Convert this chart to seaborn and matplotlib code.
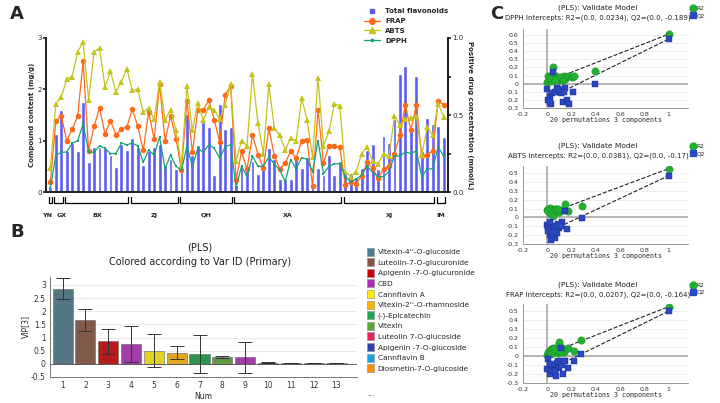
import matplotlib
matplotlib.use("Agg")
import matplotlib.pyplot as plt
import seaborn as sns
import numpy as np
import pandas as pd
from matplotlib.patches import Patch
from matplotlib.lines import Line2D

sns.set_theme(style="white")
plt.rcParams["font.family"] = "DejaVu Sans"

# ---------------- Panel A data ----------------
total_flavonoids = [0.1,1.13,1.6,0.8,0.95,0.8,1.75,0.58,0.87,0.88,
    0.85,0.72,0.48,0.93,0.82,1.06,0.88,0.52,0.8,0.88,
    0.93,0.52,0.65,0.45,0.38,1.52,0.72,0.92,1.37,1.27,
    0.33,1.72,1.23,1.26,0.14,0.5,0.48,0.6,0.36,0.45,
    0.86,0.65,0.26,0.26,0.26,0.7,0.46,0.69,0.1,0.46,
    0.33,0.73,0.34,0.61,0.38,0.37,0.3,0.47,0.82,0.93,
    0.45,1.09,0.96,1.42,2.3,2.45,1.27,2.26,0.79,1.44,
    1.33,1.29,1.07]
# antioxidant values in mmol/L (right axis, 0-1)
frap = [0.067,0.46,0.493,0.333,0.407,0.493,0.85,0.267,0.427,0.547,
    0.377,0.463,0.373,0.407,0.423,0.537,0.427,0.27,0.52,0.343,
    0.7,0.333,0.493,0.347,0.14,0.593,0.257,0.533,0.533,0.597,
    0.47,0.323,0.633,0.687,0.08,0.263,0.147,0.373,0.243,0.157,
    0.413,0.237,0.15,0.187,0.267,0.22,0.333,0.34,0.04,0.533,
    0.187,0.3,0.3,0.29,0.047,0.067,0.053,0.107,0.193,0.153,
    0.09,0.15,0.167,0.25,0.367,0.567,0.4,0.567,0.233,0.243,
    0.267,0.59,0.567]
abts = [0.157,0.573,0.617,0.733,0.75,0.91,0.973,0.6,0.91,0.933,
    0.683,0.783,0.65,0.717,0.8,0.66,0.667,0.517,0.543,0.473,
    0.717,0.467,0.533,0.4,0.167,0.69,0.4,0.577,0.467,0.55,
    0.533,0.473,0.567,0.7,0.2,0.333,0.3,0.767,0.45,0.25,
    0.7,0.417,0.367,0.273,0.35,0.333,0.61,0.467,0.227,0.743,
    0.3,0.393,0.573,0.56,0.133,0.1,0.133,0.25,0.293,0.2,
    0.183,0.25,0.233,0.493,0.433,0.473,0.483,0.493,0.24,0.423,
    0.367,0.573,0.49]
dpph = [0.023,0.24,0.257,0.26,0.317,0.333,0.443,0.26,0.257,0.3,
    0.283,0.25,0.25,0.317,0.307,0.317,0.3,0.193,0.273,0.24,
    0.357,0.15,0.24,0.167,0.14,0.3,0.167,0.283,0.257,0.307,
    0.283,0.22,0.293,0.307,0.033,0.167,0.1,0.233,0.167,0.167,
    0.227,0.183,0.143,0.067,0.21,0.15,0.223,0.213,0.133,0.333,
    0.117,0.167,0.183,0.183,0.1,0.067,0.083,0.11,0.167,0.127,
    0.1,0.1,0.133,0.233,0.233,0.26,0.25,0.267,0.1,0.15,
    0.15,0.293,0.233]
regions = ["YN","GX","BX","ZJ","QH","XA","XJ","IM"]
region_start = [0,1,3,15,24,34,54,71]
region_end = [0,2,14,23,33,53,70,72]

# ---------------- Panel B data ----------------
vip_num = list(range(1,14))
vip_values = [2.85,1.68,0.85,0.75,0.5,0.43,0.37,0.25,0.25,0.05,0.03,0.03,0.03]
vip_err = [0.4,0.42,0.48,0.67,0.63,0.26,0.72,0.04,0.58,0.02,0.01,0.01,0.01]
vip_colors = ["#4d7a8c","#8a5643","#d00000","#b02cb8","#ffee00","#ffb300",
              "#1aa84a","#5aa832","#b02cb8","#e8245c","#2a44b0","#19a0e8","#ff8c00"]
legend_names = ["Vitexin-4''-O-glucoside","Luteolin-7-O-glucuronide","Apigenin -7-O-glucuronide",
    "CBD","Cannflavin A","Vitexin-2''-O-rhamnoside","(-)-Epicatechin","Vitexin",
    "Luteolin 7-O-glucoside","Apigenin -7-O-glucoside","Cannflavin B","Diosmetin-7-O-glucoside"]
legend_colors = ["#4d7a8c","#8a5643","#d00000","#b02cb8","#ffee00","#ffb300",
    "#1aa84a","#5aa832","#e8245c","#2a44b0","#19a0e8","#ff8c00"]

# ---------------- Panel C data ----------------
perm_titles = ["DPPH Intercepts: R2=(0.0, 0.0234), Q2=(0.0, -0.189)",
               "ABTS Intercepts: R2=(0.0, 0.0381), Q2=(0.0, -0.17)",
               "FRAP Intercepts: R2=(0.0, 0.0207), Q2=(0.0, -0.164)"]
r2_int = [0.0234,0.0381,0.0207]
q2_int = [-0.189,-0.17,-0.164]
r2_x = [[0,0.01,0.02,0.03,0.05,0.07,0.1,0.12,0.14,0.15,0.17,0.2,0.22,0.39,0.03,0.08,0.11,0.13,0.02,0.06,1],
        [0,0.01,0.02,0.03,0.04,0.05,0.06,0.08,0.1,0.12,0.15,0.17,0.29,0.02,0.04,0.07,0.09,0.01,0.03,0.05,1],
        [0,0.01,0.02,0.03,0.05,0.07,0.1,0.12,0.14,0.17,0.22,0.28,0.04,0.06,0.08,0.09,0.02,0.11,0.03,0.05,1]]
r2_y = [[0.02,0.1,0.05,0.08,0.21,0.1,0.05,0.07,0.1,0.06,0.1,0.08,0.09,0.15,0.03,0.06,0.08,0.04,0.07,0.04,0.61],
        [0.08,0.1,0.11,0.06,0.09,0.03,0.1,0.08,0.06,0.08,0.15,0.07,0.13,0.05,0.07,0.09,0.1,0.07,0.04,0.02,0.55],
        [0.01,0.05,0.03,0.08,0.09,0.06,0.16,0.09,0.05,0.09,0.06,0.18,0.04,0.07,0.1,0.03,0.05,0.04,0.02,0.08,0.55]]
q2_x = [[0,0.01,0.02,0.03,0.04,0.05,0.08,0.1,0.12,0.13,0.15,0.16,0.18,0.21,0.39,0.06,0.11,0.02,0.14,0.09,1],
        [0,0.01,0.02,0.03,0.04,0.05,0.06,0.08,0.1,0.12,0.15,0.16,0.29,0.02,0.07,0.03,0.09,0.01,0.05,0.11,1],
        [0,0.01,0.02,0.03,0.05,0.07,0.08,0.1,0.11,0.13,0.15,0.17,0.22,0.28,0.04,0.06,0.09,0.12,0.02,0.14,1]]
q2_y = [[-0.07,-0.2,-0.15,-0.25,-0.12,0.14,-0.05,-0.1,-0.08,-0.22,-0.05,-0.2,-0.25,-0.1,0.0,-0.1,-0.12,-0.22,-0.1,-0.06,0.55],
        [-0.08,-0.12,-0.2,-0.25,-0.15,-0.1,-0.23,-0.18,-0.12,-0.05,0.07,-0.13,-0.01,-0.05,-0.1,-0.2,-0.07,-0.15,-0.17,-0.1,0.47],
        [-0.14,-0.03,-0.2,-0.15,-0.12,-0.22,-0.08,-0.13,0.09,-0.2,-0.06,-0.13,-0.05,0.02,-0.1,-0.17,-0.06,-0.1,-0.09,-0.05,0.5]]

W, H = 720, 403
fig = plt.figure(figsize=(W/100, H/100), dpi=100)
def rect(x0, y0, x1, y1):
    return [x0/W, 1-y1/H, (x1-x0)/W, (y1-y0)/H]

# ================= Panel A =================
axA = fig.add_axes(rect(46, 38, 448, 192))
n = len(total_flavonoids)
idx = np.arange(n)
axA.bar(idx, total_flavonoids, width=0.7, color="#5c5cf2", label="Total flavonoids")
axA.set_xlim(-0.8, n-0.2)
axA.set_ylim(0, 3)
axA.set_yticks([0,1,2,3])
axA.tick_params(axis="y", labelsize=5, length=2, pad=1)
axA.set_xticks([])
axA.set_ylabel("Compound content (mg/g)", fontsize=5, fontweight="bold", labelpad=2)
for s in ["top","right"]:
    axA.spines[s].set_visible(False)
axA.spines["left"].set_color("black"); axA.spines["bottom"].set_color("black")
axA2 = axA.twinx()
axA2.set_ylim(0, 1)
sns.lineplot(x=idx, y=frap, ax=axA2, color="#ff6a1a", marker="o", markersize=4,
             markeredgewidth=0, linewidth=0.9, label="FRAP", legend=False)
sns.lineplot(x=idx, y=abts, ax=axA2, color="#c4c41c", marker="^", markersize=4,
             markeredgewidth=0, linewidth=0.9, label="ABTS", legend=False)
sns.lineplot(x=idx, y=dpph, ax=axA2, color="#17a27a", marker="s", markersize=1.5,
             markeredgewidth=0, linewidth=0.9, label="DPPH", legend=False)
axA2.set_yticks([0,0.25,0.5,0.75,1.0])
axA2.set_yticklabels(["0.0","","0.5","","1.0"])
axA2.tick_params(axis="y", labelsize=5, length=2, pad=1)
axA2.set_ylabel("Positive drug concentration (mmol/L)", fontsize=5, fontweight="bold",
                rotation=270, labelpad=7)
axA2.spines["top"].set_visible(False)
axA2.spines["right"].set_color("black")
tr = axA.get_xaxis_transform()
label_off = [-0.6, 0.6, 0, 0, 0, 0, 0, 0]
for name, s, e, off in zip(regions, region_start, region_end, label_off):
    axA.plot([s-0.3, s-0.3, e+0.3, e+0.3], [-0.03, -0.07, -0.07, -0.03], transform=tr,
             color="black", lw=0.9, clip_on=False)
    axA.text((s+e)/2 + off, -0.15, name, transform=tr, ha="center", va="center",
             fontsize=4.6, fontweight="bold")
hA = [Line2D([],[],marker="s",color="#5c5cf2",ls="",markersize=3.5),
      Line2D([],[],marker="o",color="#ff6a1a",markersize=4,lw=0.9),
      Line2D([],[],marker="^",color="#c4c41c",markersize=4,lw=0.9),
      Line2D([],[],marker="s",color="#17a27a",markersize=1.5,lw=0.9)]
fig.legend(hA, ["Total flavonoids","FRAP","ABTS","DPPH"], loc="upper left",
           bbox_to_anchor=(358/W, 1-2/H), frameon=False,
           prop={"size":5,"weight":"bold"}, handlelength=2.2, labelspacing=0.55)

fig.text(10/W, 1-14/H, "A", fontsize=13, fontweight="bold", va="center")
fig.text(10/W, 1-232/H, "B", fontsize=13, fontweight="bold", va="center")
fig.text(490/W, 1-14/H, "C", fontsize=13, fontweight="bold", va="center")

# ================= Panel B =================
axB = fig.add_axes(rect(50, 277, 357, 377))
dfB = pd.DataFrame({"Num": [str(v) for v in vip_num], "VIP": vip_values})
sns.barplot(data=dfB, x="Num", y="VIP", hue="Num", palette=vip_colors, legend=False,
            ax=axB, width=0.88, edgecolor="#666666", linewidth=0.4)
axB.errorbar(np.arange(len(vip_values)), vip_values, yerr=vip_err, fmt="none",
             ecolor="#333333", elinewidth=0.7, capsize=5, capthick=0.7)
axB.set_ylim(-0.5, 3.3)
axB.set_xlim(-0.55, 12.9)
axB.set_yticks([-0.5,0,0.5,1,1.5,2,2.5,3])
axB.set_yticklabels(["-0.5","0","0.5","1","1.5","2","2.5","3"])
axB.grid(axis="y", color="#e6e6e6", lw=0.6)
axB.set_axisbelow(True)
axB.axhline(0, color="#555555", lw=0.6)
axB.tick_params(labelsize=5.5, length=2, pad=1, colors="#333333")
axB.set_xlabel("Num", fontsize=5.5, labelpad=1)
axB.set_ylabel("VIP[3]", fontsize=5.5, labelpad=1)
for s in ["top","right"]:
    axB.spines[s].set_visible(False)
for s in ["left","bottom"]:
    axB.spines[s].set_color("#777777"); axB.spines[s].set_linewidth(0.7)
fig.text(200/W, 1-248/H, "(PLS)", fontsize=7, ha="center", va="center", color="#222222")
fig.text(200/W, 1-262/H, "Colored according to Var ID (Primary)", fontsize=7,
         ha="center", va="center", color="#222222")
hB = [Patch(facecolor=c, edgecolor="#888888", lw=0.4) for c in legend_colors]
fig.legend(hB, legend_names, loc="upper left", bbox_to_anchor=(360/W, 1-241/H),
           frameon=False, fontsize=5.3, handlelength=1.0, handleheight=1.3,
           labelspacing=0.35, handletextpad=0.5)
fig.text(367/W, 1-394/H, "...", fontsize=5.5, va="center")

# ================= Panel C =================
c_rects = [rect(523, 28.5, 688, 108), rect(523, 166, 688, 244), rect(523, 304, 688, 383)]
c_ylims = [(-0.3, 0.68), (-0.3, 0.58), (-0.3, 0.58)]
c_yticks = [np.round(np.arange(-0.3, 0.61, 0.1), 1), np.round(np.arange(-0.3, 0.51, 0.1), 1),
            np.round(np.arange(-0.3, 0.51, 0.1), 1)]
c_title_y = [8, 146, 285]
for k in range(3):
    ax = fig.add_axes(c_rects[k])
    ax.set_xlim(-0.2, 1.16)
    ax.set_ylim(*c_ylims[k])
    ax.set_yticks(c_yticks[k])
    ax.set_yticklabels([("%g" % v) for v in c_yticks[k]])
    ax.set_xticks([-0.2,0,0.2,0.4,0.6,0.8,1])
    ax.set_xticklabels(["-0.2","0","0.2","0.4","0.6","0.8","1"])
    ax.grid(axis="y", color="#e8e8e8", lw=0.5)
    ax.set_axisbelow(True)
    ax.axhline(0, color="#aaaaaa", lw=1.2, zorder=1)
    ax.axvline(0, color="#aaaaaa", lw=1.2, zorder=1)
    ax.tick_params(labelsize=4.5, length=2, pad=1, colors="#333333")
    for s in ["top","right"]:
        ax.spines[s].set_visible(False)
    for s in ["left","bottom"]:
        ax.spines[s].set_color("#888888"); ax.spines[s].set_linewidth(0.6)
    xs = np.array([0.14, 1.0])
    ax.plot(xs, r2_int[k] + (r2_y[k][-1]-r2_int[k])*xs, ls="--", color="#222222", lw=0.8, zorder=2)
    ax.plot(xs, q2_int[k] + (q2_y[k][-1]-q2_int[k])*xs, ls="--", color="#222222", lw=0.8, zorder=2)
    sns.scatterplot(x=r2_x[k], y=r2_y[k], ax=ax, color="#22b033", marker="o", s=28,
                    edgecolor="#128a22", linewidth=0.3, zorder=3)
    sns.scatterplot(x=q2_x[k], y=q2_y[k], ax=ax, color="#2a48c0", marker="s", s=22,
                    edgecolor="#1a2a90", linewidth=0.3, zorder=3)
    ax.set_xlabel("20 permutations 3 components", fontsize=4.8, family="DejaVu Sans Mono",
                  labelpad=0)
    ty = c_title_y[k]
    fig.text(598/W, 1-ty/H, "(PLS): Validate Model", fontsize=5.4, ha="center", va="center",
             color="#222222")
    fig.text(598/W, 1-(ty+10)/H, perm_titles[k], fontsize=5.0, ha="center", va="center",
             color="#222222")
    hC = [Line2D([],[],marker="o",color="#22b033",ls="",markersize=5),
          Line2D([],[],marker="s",color="#2a48c0",ls="",markersize=4)]
    fig.legend(hC, ["R2","Q2"], loc="upper left", bbox_to_anchor=(686/W, 1-(ty-6)/H),
               frameon=False, fontsize=4.2, handletextpad=0.1, labelspacing=0.3,
               borderpad=0.2, handlelength=1.0)

fig.savefig("out.png", dpi=100)
